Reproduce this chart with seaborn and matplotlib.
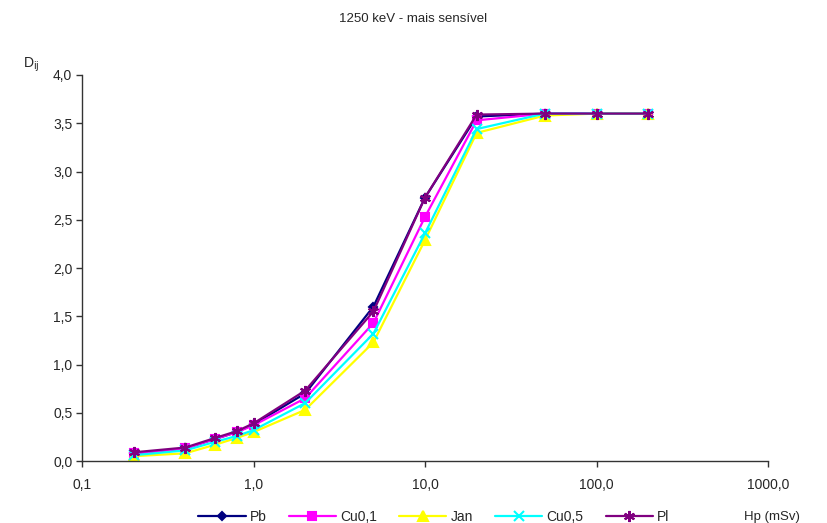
import pandas as pd
import numpy as np
import seaborn as sns
import matplotlib.pyplot as plt
from matplotlib.ticker import FixedLocator, NullLocator

sns.set_theme(style="white")
plt.rcParams['font.family'] = ['Liberation Sans', 'DejaVu Sans']

# dose values (mSv)
hp = [0.2, 0.4, 0.6, 0.8, 1.0, 2.0, 5.0, 10.0, 20.0, 50.0, 100.0, 200.0]

pb = [0.08, 0.13, 0.23, 0.30, 0.38, 0.70, 1.60, 2.73, 3.57, 3.60, 3.60, 3.60]
cu01 = [0.08, 0.13, 0.23, 0.30, 0.37, 0.65, 1.43, 2.53, 3.53, 3.60, 3.60, 3.60]
jan = [0.05, 0.08, 0.17, 0.24, 0.30, 0.53, 1.23, 2.29, 3.40, 3.58, 3.60, 3.60]
cu05 = [0.06, 0.11, 0.20, 0.26, 0.32, 0.60, 1.32, 2.36, 3.44, 3.60, 3.60, 3.60]
pl = [0.09, 0.14, 0.24, 0.31, 0.39, 0.73, 1.55, 2.73, 3.59, 3.60, 3.60, 3.60]

names = ["Pb", "Cu0,1", "Jan", "Cu0,5", "Pl"]
series = [pb, cu01, jan, cu05, pl]
colors = ["#000080", "#FF00FF", "#FFFF00", "#00FFFF", "#800080"]
markers = ["D", "s", "^", "x", (6, 2, 0)]
msizes = [4.5, 5.5, 7, 7, 8]

yticks = [0.0, 0.5, 1.0, 1.5, 2.0, 2.5, 3.0, 3.5, 4.0]
xticks = [0.1, 1, 10, 100, 1000]
xlabels = ["0,1", "1,0", "10,0", "100,0", "1000,0"]

fig = plt.figure(figsize=(8.27, 5.23), dpi=100)
ax = fig.add_axes([0.0992, 0.1185, 0.8295, 0.7381])

for name, vals, c, m, ms in zip(names, series, colors, markers, msizes):
    d = pd.DataFrame({"Hp": hp, "D": vals})
    sns.lineplot(data=d, x="Hp", y="D", ax=ax, color=c, marker=m, markersize=ms,
                 markeredgecolor=c, markerfacecolor=c, markeredgewidth=1.5,
                 linewidth=1.6, label=name)

ax.set_xscale("log")
ax.set_xlim(0.1, 1000)
ax.set_ylim(0, 4.0)
ax.xaxis.set_major_locator(FixedLocator(xticks))
ax.xaxis.set_minor_locator(NullLocator())
ax.set_xticklabels(xlabels)
ax.set_yticks(yticks)
ax.set_yticklabels([f"{v:.1f}".replace(".", ",") for v in yticks])
ax.tick_params(axis="both", which="major", direction="out", length=4, width=1,
               labelsize=10, color="#333333", bottom=True, left=True, pad=8)
ax.tick_params(axis="y", pad=3)

for s in ["top", "right"]:
    ax.spines[s].set_visible(False)
for s in ["left", "bottom"]:
    ax.spines[s].set_color("#333333")
    ax.spines[s].set_linewidth(1)

ax.set_xlabel("")
ax.set_ylabel("")
fig.text(0.5, 0.975, "1250 keV - mais sensível", ha="center", va="top", fontsize=9.5)
fig.text(0.028, 0.858, r"D$_{\mathrm{ij}}$", ha="left", va="bottom", fontsize=10)
fig.text(0.934, 0.0, "Hp (mSv)", ha="center", va="bottom", fontsize=9.5)

ax.legend(loc="lower center", bbox_to_anchor=(0.513, -0.195), ncol=5, frameon=False,
          fontsize=10, handlelength=3.4, columnspacing=1.6, handletextpad=0.3)

fig.savefig("out.png", dpi=100, facecolor="white")
